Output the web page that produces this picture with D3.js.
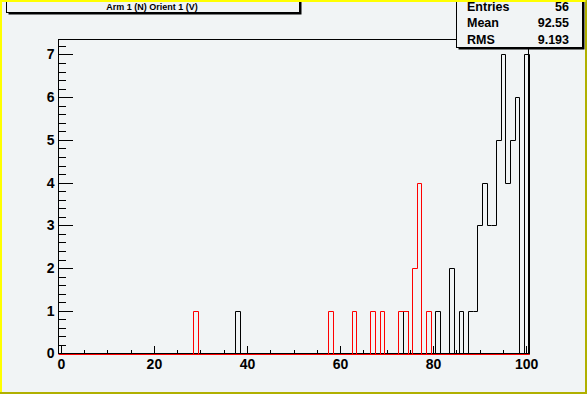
<!DOCTYPE html>
<html><head><meta charset="utf-8">
<script src="https://cdn.jsdelivr.net/npm/d3@7"></script>
<style>
html,body{margin:0;padding:0;background:#f1f4f5;}
svg{display:block;}
text{font-family:"Liberation Sans",Arial,Helvetica,sans-serif;font-weight:bold;fill:#000;}
</style></head>
<body>
<svg id="c" width="587" height="394"></svg>
<script>
// ---- data ----
const title = "Arm 1 (N) Orient 1 (V)";
const statLabels = ["Entries", "Mean", "RMS"];
const statValues = ["56", "92.55", "9.193"];
const xTicks = [0, 20, 40, 60, 80, 100];
const yTicks = [0, 1, 2, 3, 4, 5, 6, 7];
// black histogram: bin centres and counts
const blackBins   = [38, 74, 81, 84, 86, 88, 89, 90, 91, 92, 93, 94, 95, 96, 97, 98, 100];
const blackCounts = [ 1,  1,  1,  2,  1,  1,  1,  3,  4,  3,  3,  5,  7,  4,  5,  6,   7];
// red histogram
const redBins   = [29, 58, 63, 67, 69, 73, 74, 76, 77, 79];
const redCounts = [ 1,  1,  1,  1,  1,  1,  1,  2,  4,  1];

const W = 587, H = 394;
const frame = {l: 58.5, r: 528.5, t: 39.5, b: 353.5};
const svg = d3.select("#c");

const x = d3.scaleLinear().domain([-0.5, 100.5]).range([frame.l, frame.r]);
const y = d3.scaleLinear().domain([0, 7.35]).range([frame.b, frame.t]);

// frame
svg.append("rect").attr("x", frame.l).attr("y", frame.t)
  .attr("width", frame.r - frame.l).attr("height", frame.b - frame.t)
  .attr("fill", "none").attr("stroke", "#000").attr("stroke-width", 1);

function histPoints(bins, counts) {
  const dense = new Array(101).fill(0);
  bins.forEach((b, i) => dense[b] = counts[i]);
  const pts = [[-0.5, 0]];
  dense.forEach((v, i) => { pts.push([i - 0.5, v]); pts.push([i + 0.5, v]); });
  pts.push([100.5, 0]);
  return pts;
}
const px = v => Math.round(x(v)) + 0.5;
const py = v => Math.round(y(v)) + 0.5;
const line = d3.line().x(d => px(d[0])).y(d => py(d[1]));

svg.append("path").attr("d", line(histPoints(blackBins, blackCounts)))
  .attr("fill", "none").attr("stroke", "#000").attr("stroke-width", 1);
svg.append("path").attr("d", line(histPoints(redBins, redCounts)))
  .attr("fill", "none").attr("stroke", "#ff0000").attr("stroke-width", 1);

// axes (ticks pointing inward)
const fontSize = "14px";
const yAxis = d3.axisLeft(y).tickValues(yTicks).tickFormat(d3.format("d"))
  .tickSizeInner(-14).tickSizeOuter(0).tickPadding(4);
const gy = svg.append("g").attr("transform", `translate(${frame.l},0)`).call(yAxis);
const yMinor = [];
for (let v = 0; v <= 7.3; v += 0.2) yMinor.push(+v.toFixed(1));
const gym = svg.append("g").attr("transform", `translate(${frame.l},0)`)
  .call(d3.axisLeft(y).tickValues(yMinor).tickFormat("").tickSizeInner(-7).tickSizeOuter(0));

const xAxis = d3.axisBottom(x).tickValues(xTicks).tickFormat(d3.format("d"))
  .tickSizeInner(-8).tickSizeOuter(0).tickPadding(6);
const gx = svg.append("g").attr("transform", `translate(0,${frame.b})`).call(xAxis);
const xMinor = d3.range(0, 101, 5);
const gxm = svg.append("g").attr("transform", `translate(0,${frame.b})`)
  .call(d3.axisBottom(x).tickValues(xMinor).tickFormat("").tickSizeInner(-4).tickSizeOuter(0));

[gy, gym, gx, gxm].forEach(g => {
  g.select(".domain").remove();
  g.selectAll("line").attr("stroke", "#000").attr("shape-rendering", "crispEdges");
  g.selectAll("text").style("font-size", fontSize).style("font-weight", "bold")
    .attr("font-family", "Liberation Sans, Arial, sans-serif").attr("fill", "#000");
});
// redraw red baseline on top of the axis line
svg.append("line").attr("x1", frame.l).attr("x2", frame.r)
  .attr("y1", py(0)).attr("y2", py(0)).attr("stroke", "#ff0000");

// canvas bevel border
svg.append("rect").attr("x", 0).attr("y", 0).attr("width", W).attr("height", 2).attr("fill", "#ffff00");
svg.append("rect").attr("x", 0).attr("y", 0).attr("width", 2).attr("height", H).attr("fill", "#ffff00");
svg.append("rect").attr("x", W - 2).attr("y", 0).attr("width", 2).attr("height", H).attr("fill", "#b0b000");
svg.append("rect").attr("x", 0).attr("y", H - 2).attr("width", W).attr("height", 2).attr("fill", "#b0b000");

// title box
svg.append("rect").attr("x", 8.5).attr("y", 2).attr("width", 293).attr("height", 12.5).attr("fill", "#000");
svg.append("rect").attr("x", 6.5).attr("y", -10).attr("width", 293).attr("height", 22.5)
  .attr("fill", "#f1f4f5").attr("stroke", "#000").attr("stroke-width", 1);
svg.append("rect").attr("x", 2).attr("y", 0).attr("width", 300).attr("height", 2).attr("fill", "#ffff00");
svg.append("text").attr("x", 152).attr("y", 10).attr("text-anchor", "middle")
  .style("font-size", "9px").text(title);

// stats box
const sb = {x: 456.5, y: -10, w: 126, h: 57.5};
svg.append("rect").attr("x", sb.x + 2).attr("y", 2).attr("width", sb.w).attr("height", sb.h - 10).attr("fill", "#000");
svg.append("rect").attr("x", sb.x).attr("y", sb.y).attr("width", sb.w).attr("height", sb.h)
  .attr("fill", "#f1f4f5").attr("stroke", "#000").attr("stroke-width", 1);
svg.append("rect").attr("x", sb.x - 1).attr("y", 0).attr("width", sb.w + 4).attr("height", 2).attr("fill", "#ffff00");
const rowY = [10.5, 27, 44];
statLabels.forEach((s, i) => {
  svg.append("text").attr("x", 467).attr("y", rowY[i]).style("font-size", "12.5px").text(s);
  svg.append("text").attr("x", 569).attr("y", rowY[i]).attr("text-anchor", "end")
    .style("font-size", "12.5px").text(statValues[i]);
});
</script>
</body></html>
